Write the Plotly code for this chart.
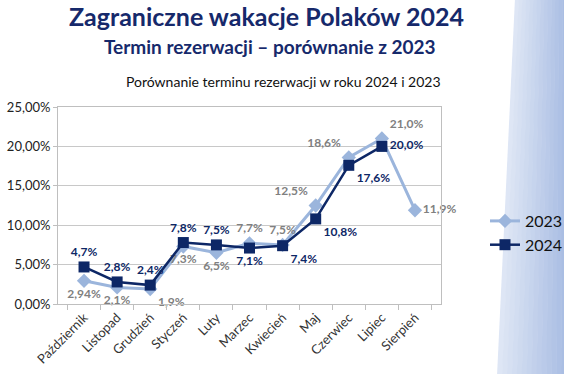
import plotly.graph_objects as go

months = ["Październik", "Listopad", "Grudzień", "Styczeń", "Luty", "Marzec",
          "Kwiecień", "Maj", "Czerwiec", "Lipiec", "Sierpień"]
vals_2023 = [2.94, 2.1, 1.9, 7.3, 6.5, 7.7, 7.5, 12.5, 18.6, 21.0, 11.9]
vals_2024 = [4.7, 2.8, 2.4, 7.8, 7.5, 7.1, 7.4, 10.8, 17.6, 20.0, None]
y_ticks = [0, 5, 10, 15, 20, 25]

pos_2023 = ["bottom center", "bottom center", "bottom right", "bottom center", "bottom center",
            "top center", "top center", "top left", "top left", "top right", "middle right"]
pos_2024 = ["top center", "top center", "top center", "top center", "top center",
            "bottom center", "bottom right", "bottom right", "bottom right", "middle right", "middle right"]


def fmt(v):
    if v is None:
        return ""
    s = f"{v:.2f}" if round(v, 1) != v else f"{v:.1f}"
    return s.replace(".", ",") + "%"


C23 = "#9bb5dc"
C24 = "#0d2766"

fig = go.Figure()
fig.add_trace(go.Scatter(
    x=months, y=vals_2023, name="2023", mode="lines+markers+text",
    line=dict(color=C23, width=3),
    marker=dict(symbol="diamond", size=11, color=C23),
    text=[fmt(v) for v in vals_2023], textposition=pos_2023,
    textfont=dict(family="Lato", size=12, color="#808080", weight="bold"),
    cliponaxis=False,
))
fig.add_trace(go.Scatter(
    x=months, y=vals_2024, name="2024", mode="lines+markers+text",
    line=dict(color=C24, width=2.5),
    marker=dict(symbol="square", size=11, color=C24),
    text=[fmt(v) for v in vals_2024], textposition=pos_2024,
    textfont=dict(family="Lato", size=12, color=C24, weight="bold"),
    cliponaxis=False,
))

# right decorative gradient panel (strips)
x_top, x_bot = 515, 497
W, H = 564, 374
L, T, R, B = 58, 107, 441, 304
def px2x(p):
    return (p - L) / (R - L)
def py2y(p):
    return (B - p) / (B - T)

n = 14
c0 = (224, 232, 246)
c1 = (168, 189, 227)
shapes = []
for i in range(n):
    f0 = i / n
    f1 = (i + 1) / n
    xt0 = x_top + (W + 2 - x_top) * f0
    xt1 = x_top + (W + 2 - x_top) * f1
    xb0 = x_bot + (W + 2 - x_bot) * f0
    xb1 = x_bot + (W + 2 - x_bot) * f1
    t = (i + 0.5) / n
    col = "rgb(%d,%d,%d)" % tuple(int(c0[k] + (c1[k] - c0[k]) * t) for k in range(3))
    path = "M %f,%f L %f,%f L %f,%f L %f,%f Z" % (
        px2x(xt0), py2y(-2), px2x(xt1 + 0.5), py2y(-2),
        px2x(xb1 + 0.5), py2y(H + 2), px2x(xb0), py2y(H + 2))
    shapes.append(dict(type="path", xref="paper", yref="paper", path=path,
                       fillcolor=col, line=dict(width=0), layer="below"))

fig.update_layout(
    width=W, height=H,
    margin=dict(l=L, r=W - R, t=T, b=H - B, autoexpand=False),
    paper_bgcolor="white", plot_bgcolor="white",
    showlegend=True,
    shapes=shapes,
    legend=dict(x=px2x(485), y=py2y(204), xanchor="left", yanchor="top",
                font=dict(family="Lato", size=16, color="#111111"),
                bgcolor="rgba(0,0,0,0)", tracegroupgap=2, itemwidth=30),
    font=dict(family="Lato", color="#333333"),
    annotations=[
        dict(text="<b>Zagraniczne wakacje Polaków 2024</b>", xref="paper", yref="paper",
             x=px2x(266), y=py2y(16), xanchor="center", yanchor="middle", showarrow=False,
             font=dict(family="Lato", size=25, color="#16296b")),
        dict(text="<b>Termin rezerwacji – porównanie z 2023</b>", xref="paper", yref="paper",
             x=px2x(270), y=py2y(46), xanchor="center", yanchor="middle", showarrow=False,
             font=dict(family="Lato", size=19, color="#16296b")),
        dict(text="Porównanie terminu rezerwacji w roku 2024 i 2023", xref="paper", yref="paper",
             x=px2x(283), y=py2y(82), xanchor="center", yanchor="middle", showarrow=False,
             font=dict(family="Lato", size=14, color="#111111")),
    ],
)
fig.update_xaxes(
    type="category", tickangle=-45, ticks="outside", tickson="boundaries", ticklen=5,
    tickcolor="#bfbfbf", showline=True, linecolor="#bfbfbf", mirror=True,
    showgrid=False, tickfont=dict(family="Lato", size=13, color="#333333"),
    automargin=False,
)
fig.update_yaxes(
    range=[0, 25], tickvals=y_ticks,
    ticktext=[f"{v:.2f}".replace(".", ",") + "%" for v in y_ticks],
    ticks="outside", ticklen=4, tickcolor="#bfbfbf",
    showline=True, linecolor="#bfbfbf", mirror=True,
    showgrid=True, gridcolor="#c8c8c8", gridwidth=1, zeroline=False,
    tickfont=dict(family="Lato", size=13, color="#222222"),
    automargin=False,
)

fig.write_html("out.html", config={"displayModeBar": False},
               post_script="document.body.style.margin='0';document.body.style.overflow='hidden';")
